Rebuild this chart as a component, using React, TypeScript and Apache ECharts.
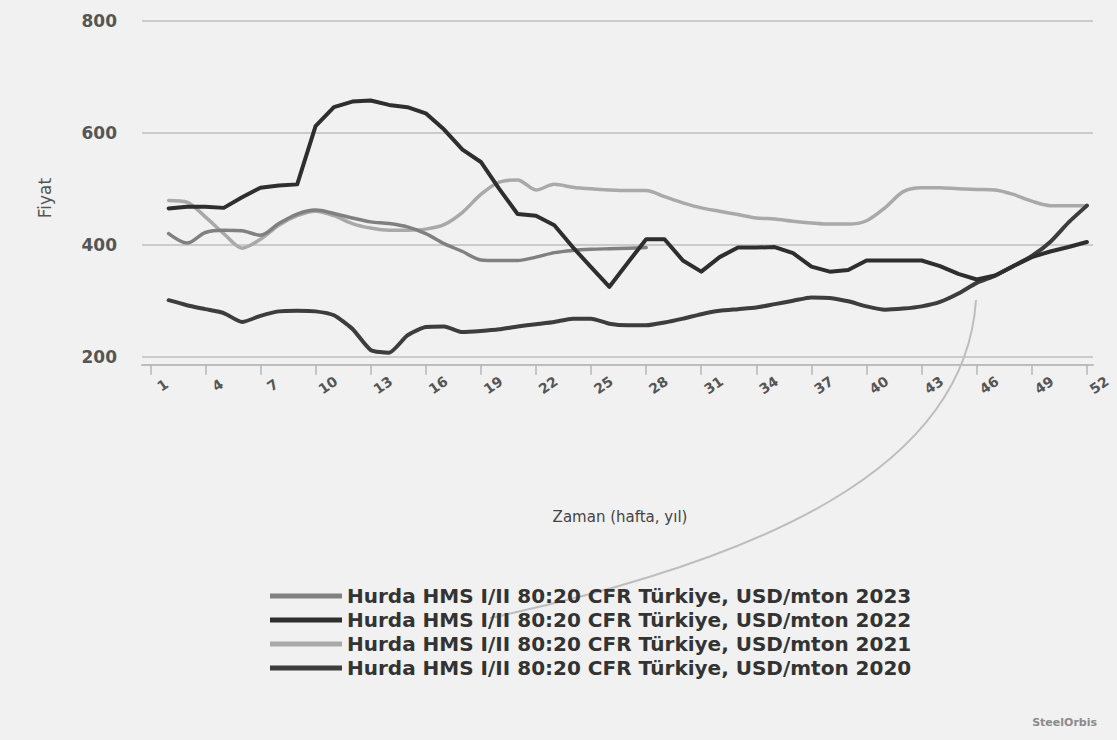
import { useEffect, useRef } from "react";
import * as echarts from "echarts";

// Weeks on which the series have points (the first week has no data)
const weeks = [
  2, 3, 4, 5, 6, 7, 8, 9, 10, 11, 12, 13, 14, 15, 16, 17, 18, 19, 20, 21, 22, 23, 24, 25, 26, 27,
  28, 29, 30, 31, 32, 33, 34, 35, 36, 37, 38, 39, 40, 41, 42, 43, 44, 45, 46, 47, 48, 49, 50, 51, 52,
];
// Week labels on the x axis
const tickWeeks = [1, 4, 7, 10, 13, 16, 19, 22, 25, 28, 31, 34, 37, 40, 43, 46, 49, 52];

const names = [
  "Hurda HMS I/II 80:20 CFR Türkiye, USD/mton 2023",
  "Hurda HMS I/II 80:20 CFR Türkiye, USD/mton 2022",
  "Hurda HMS I/II 80:20 CFR Türkiye, USD/mton 2021",
  "Hurda HMS I/II 80:20 CFR Türkiye, USD/mton 2020",
];

const price2023 = [
  420, 403, 422, 426, 425, 417, 438, 455, 462, 456, 448, 441, 438, 432, 420, 402, 388, 373, 372, 372,
  378, 386, 390, 392, 393, 394, 395,
];
const price2022 = [
  465, 468, 468, 466, 485, 502, 506, 508, 612, 646, 656, 658, 650, 646, 635, 606, 570, 548, 500, 455,
  452, 435, 396, 360, 325, 368, 410, 410, 372, 352, 378, 395, 395, 396, 385, 361, 352, 355, 372, 372,
  372, 372, 362, 348, 338, 345, 362, 378, 388, 396, 405,
];
const price2021 = [
  479, 476, 450, 420, 394, 410, 435, 452, 460, 452, 438, 430, 426, 426, 428, 436, 458, 490, 512, 516,
  498, 508, 503, 500, 498, 497, 497, 486, 475, 466, 460, 454, 448, 446, 442, 439, 437, 437, 443, 466,
  495, 502, 502, 500, 499, 498, 490, 478, 470, 470, 470,
];
const price2020 = [
  301, 292, 285, 278, 262, 273, 281, 282, 281, 274, 250, 212, 207, 238, 253, 254, 244, 246, 249, 254,
  258, 262, 268, 268, 259, 256, 256, 261, 268, 276, 282, 285, 288, 294, 300, 306, 305, 299, 290, 284,
  286, 290, 298, 313, 332, 345, 362, 380, 405, 440, 470,
];

const colors = ["#808080", "#2e2e2e", "#a9a9a9", "#3d3d3d"];

const pairs = (vals: number[]) => vals.map((v, i) => [weeks[i], v]);

export default function App() {
  const ref = useRef<HTMLDivElement>(null);

  useEffect(() => {
    const chart = echarts.init(ref.current!, null, { renderer: "svg" });
    const mk = (idx: number, vals: number[], z: number, smooth: number, width: number) => ({
      name: names[idx],
      type: "line",
      data: pairs(vals),
      showSymbol: false,
      symbol: "none",
      smooth,
      z,
      lineStyle: { color: colors[idx], width, cap: "round", join: "round" },
      itemStyle: { color: colors[idx] },
      emphasis: { disabled: true },
    });
    chart.setOption({
      animation: false,
      backgroundColor: "#f1f1f2",
      textStyle: { fontFamily: "DejaVu Sans" },
      grid: { left: 142, right: 24, top: 21, bottom: 383.3, outerBoundsMode: "none" },
      xAxis: {
        type: "value",
        min: 0.55,
        max: 52.33,
        offset: 8,
        axisLine: { show: true, lineStyle: { color: "#bdbdbd", width: 2 } },
        axisTick: {
          show: true,
          customValues: tickWeeks,
          length: 10,
          lineStyle: { color: "#b5b5b5", width: 1.5 },
        },
        axisLabel: {
          customValues: tickWeeks,
          rotate: 35,
          align: "center",
          verticalAlign: "middle",
          padding: [0, 0, 0, 30],
          margin: 29,
          color: "#555",
          fontSize: 14,
          fontWeight: "bold",
          fontFamily: "DejaVu Sans",
        },
        splitLine: { show: false },
      },
      yAxis: {
        type: "value",
        min: 200,
        max: 800,
        interval: 200,
        axisLine: { show: false },
        axisTick: { show: false },
        axisLabel: {
          margin: 25,
          padding: [0, 0, 6, 0],
          color: "#555",
          fontSize: 17,
          fontWeight: "bold",
          fontFamily: "DejaVu Sans",
        },
        splitLine: { show: true, lineStyle: { color: "#cbcbcb", width: 2 } },
      },
      legend: {
        orient: "vertical",
        left: 270,
        top: 585,
        padding: 0,
        icon: "rect",
        itemWidth: 72,
        itemHeight: 5,
        itemGap: 2,
        data: names,
        selectedMode: false,
        textStyle: {
          fontSize: 20,
          fontWeight: "bold",
          color: "#333",
          fontFamily: "DejaVu Sans",
          lineHeight: 22,
        },
      },
      graphic: [
        {
          type: "text",
          x: 45,
          y: 198,
          rotation: Math.PI / 2,
          style: {
            text: "Fiyat",
            fill: "#555",
            fontSize: 17,
            fontFamily: "DejaVu Sans",
            align: "center",
            verticalAlign: "middle",
          },
        },
        {
          type: "text",
          x: 620,
          y: 517,
          style: {
            text: "Zaman (hafta, yıl)",
            fill: "#444",
            fontSize: 15,
            fontFamily: "DejaVu Sans",
            align: "center",
            verticalAlign: "middle",
          },
        },
        {
          type: "text",
          x: 1097,
          y: 722,
          style: {
            text: "SteelOrbis",
            fill: "#8a8a8a",
            fontSize: 11,
            fontWeight: "bold",
            fontFamily: "DejaVu Sans",
            align: "right",
            verticalAlign: "middle",
          },
        },
        {
          type: "bezierCurve",
          z: 1,
          shape: { x1: 976, y1: 300, cpx1: 965, cpy1: 470, cpx2: 760, cpy2: 560, x2: 490, y2: 618 },
          style: { stroke: "#bdbdbd", lineWidth: 2, fill: null },
        },
      ],
      series: [
        mk(2, price2021, 2, 0.3, 3.5),
        mk(0, price2023, 3, 0.3, 3.5),
        mk(3, price2020, 4, 0.2, 4),
        mk(1, price2022, 5, 0, 4),
      ],
    });
    return () => chart.dispose();
  }, []);

  return (
    <div
      ref={ref}
      style={{ position: "fixed", left: 0, top: 0, width: 1117, height: 740, background: "#f1f1f2" }}
    />
  );
}
